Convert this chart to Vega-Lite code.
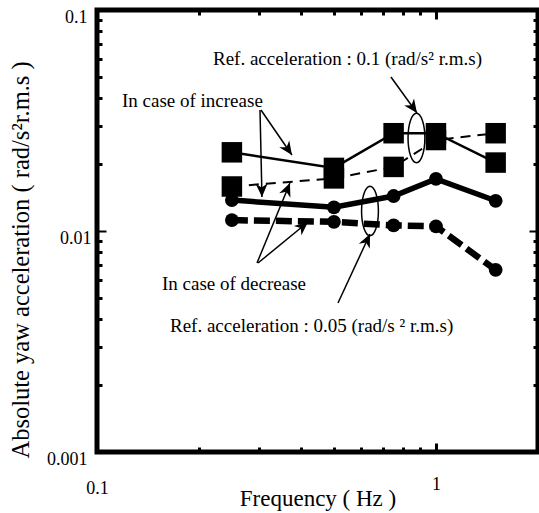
{
  "$schema": "https://vega.github.io/schema/vega-lite/v6.json",
  "width": 441,
  "height": 442,
  "autosize": {"type": "none"},
  "padding": {"left": 97, "top": 10, "right": 1, "bottom": 61},
  "background": "white",
  "config": {"view": {"stroke": "black", "strokeWidth": 5}, "font": "Liberation Serif"},
  "datasets": {
    "series": [
      {"freq": 0.25, "accel": 0.0227, "ref": "0.1", "trend": "increase"},
      {"freq": 0.5, "accel": 0.0193, "ref": "0.1", "trend": "increase"},
      {"freq": 0.75, "accel": 0.0277, "ref": "0.1", "trend": "increase"},
      {"freq": 1.0, "accel": 0.0277, "ref": "0.1", "trend": "increase"},
      {"freq": 1.5, "accel": 0.0204, "ref": "0.1", "trend": "increase"},
      {"freq": 0.25, "accel": 0.0159, "ref": "0.1", "trend": "decrease"},
      {"freq": 0.5, "accel": 0.0173, "ref": "0.1", "trend": "decrease"},
      {"freq": 0.75, "accel": 0.0195, "ref": "0.1", "trend": "decrease"},
      {"freq": 1.0, "accel": 0.0258, "ref": "0.1", "trend": "decrease"},
      {"freq": 1.5, "accel": 0.0277, "ref": "0.1", "trend": "decrease"},
      {"freq": 0.25, "accel": 0.0138, "ref": "0.05", "trend": "increase"},
      {"freq": 0.5, "accel": 0.0128, "ref": "0.05", "trend": "increase"},
      {"freq": 0.75, "accel": 0.0144, "ref": "0.05", "trend": "increase"},
      {"freq": 1.0, "accel": 0.0172, "ref": "0.05", "trend": "increase"},
      {"freq": 1.5, "accel": 0.0137, "ref": "0.05", "trend": "increase"},
      {"freq": 0.25, "accel": 0.0112, "ref": "0.05", "trend": "decrease"},
      {"freq": 0.5, "accel": 0.0110, "ref": "0.05", "trend": "decrease"},
      {"freq": 0.75, "accel": 0.0106, "ref": "0.05", "trend": "decrease"},
      {"freq": 1.0, "accel": 0.0105, "ref": "0.05", "trend": "decrease"},
      {"freq": 1.5, "accel": 0.00667, "ref": "0.05", "trend": "decrease"}
    ],
    "notes": [
      {"x": 0.2199, "y": 0.0600, "text": "Ref. acceleration : 0.1 (rad/s² r.m.s)"},
      {"x": 0.1185, "y": 0.03876, "text": "In case of increase"},
      {"x": 0.1555, "y": 0.005756, "text": "In case of decrease"},
      {"x": 0.1642, "y": 0.003716, "text": "Ref. acceleration : 0.05 (rad/s ² r.m.s)"}
    ],
    "arrows": [
      {"x": 0.3026, "y": 0.03528, "x2": 0.3067, "y2": 0.01425, "heading": 178.7},
      {"x": 0.3046, "y": 0.03528, "x2": 0.3759, "y2": 0.02207, "heading": 145.4},
      {"x": 0.2965, "y": 0.007164, "x2": 0.3709, "y2": 0.01649, "heading": 22.4},
      {"x": 0.2985, "y": 0.007164, "x2": 0.4193, "y2": 0.01098, "heading": 50.6},
      {"x": 0.7365, "y": 0.04974, "x2": 0.8790, "y2": 0.03420, "heading": 144.2},
      {"x": 0.5140, "y": 0.004722, "x2": 0.6388, "y2": 0.009692, "heading": 24.9}
    ],
    "rings": [
      {"x": 0.8759, "y": 0.02635},
      {"x": 0.6388, "y": 0.01231}
    ]
  },
  "resolve": {"axis": {"x": "independent", "y": "independent"}},
  "layer": [
    {
      "data": {"name": "series"},
      "transform": [{"filter": "datum.ref == '0.1' && datum.trend == 'increase'"}],
      "mark": {"type": "line", "color": "black", "strokeWidth": 2.5},
      "encoding": {
        "x": {
          "field": "freq", "type": "quantitative",
          "scale": {"type": "log", "domain": [0.1, 2], "nice": false},
          "axis": {
            "orient": "bottom",
            "values": [0.1, 0.2, 0.3, 0.4, 0.5, 0.6, 0.7, 0.8, 0.9, 1],
            "domain": false, "grid": false,
            "tickColor": "black", "tickWidth": 3,
            "tickSize": {"condition": {"test": "datum.value == 1", "value": -9}, "value": -5},
            "labelExpr": "datum.value == 1 ? '1' : (datum.value == 0.1 ? '0.1' : '')",
            "labelFont": "Liberation Serif", "labelFontSize": 18, "labelColor": "black",
            "labelPadding": 32, "labelFlush": false, "labelOverlap": false, "labelBound": false,
            "title": "Frequency  ( Hz )",
            "titleFont": "Liberation Serif", "titleFontSize": 23, "titleFontWeight": "normal", "titleColor": "black",
            "titleY": 46, "titleBaseline": "middle"
          }
        },
        "y": {
          "field": "accel", "type": "quantitative",
          "scale": {"type": "log", "domain": [0.001, 0.1], "nice": false},
          "axis": {
            "orient": "left",
            "values": [0.001, 0.002, 0.003, 0.004, 0.005, 0.006, 0.007, 0.008, 0.009, 0.01, 0.02, 0.03, 0.04, 0.05, 0.06, 0.07, 0.08, 0.09, 0.1],
            "domain": false, "grid": false,
            "tickColor": "black",
            "tickWidth": {"condition": {"test": "datum.value == 0.01", "value": 2}, "value": 3},
            "tickSize": {"condition": {"test": "datum.value == 0.01", "value": -9}, "value": -5},
            "labelExpr": "datum.value == 0.1 ? '0.1' : (datum.value == 0.01 ? '0.01' : (datum.value == 0.001 ? '0.001' : ''))",
            "labelFont": "Liberation Serif", "labelFontSize": 18, "labelColor": "black",
            "labelPadding": 15, "labelOffset": 7, "labelFlush": false, "labelOverlap": false, "labelBound": false,
            "title": "Absolute yaw acceleration ( rad/s²r.m.s )",
            "titleFont": "Liberation Serif", "titleFontSize": 24.5, "titleFontWeight": "normal", "titleColor": "black",
            "titleAnchor": "start", "titleAlign": "left",
            "titleX": -76, "titleY": 448, "titleBaseline": "middle"
          }
        }
      }
    },
    {
      "data": {"name": "series"},
      "transform": [{"filter": "datum.ref == '0.1' && datum.trend == 'decrease'"}],
      "mark": {"type": "line", "color": "black", "strokeWidth": 2, "strokeDash": [10, 7]},
      "encoding": {
        "x": {
          "field": "freq", "type": "quantitative",
          "axis": {
            "orient": "top",
            "values": [0.2, 0.3, 0.4, 0.5, 0.6, 0.7, 0.8, 0.9, 1],
            "domain": false, "grid": false, "labels": false, "title": null,
            "tickColor": "black", "tickWidth": 3,
            "tickSize": {"condition": {"test": "datum.value == 1", "value": -9}, "value": -5}
          }
        },
        "y": {
          "field": "accel", "type": "quantitative",
          "axis": {
            "orient": "right",
            "values": [0.002, 0.003, 0.004, 0.005, 0.006, 0.007, 0.008, 0.009, 0.01, 0.02, 0.03, 0.04, 0.05, 0.06, 0.07, 0.08, 0.09],
            "domain": false, "grid": false, "labels": false, "title": null,
            "tickColor": "black",
            "tickWidth": {"condition": {"test": "datum.value == 0.01", "value": 2}, "value": 3},
            "tickSize": {"condition": {"test": "datum.value == 0.01", "value": -9}, "value": -5}
          }
        }
      }
    },
    {
      "data": {"name": "series"},
      "transform": [{"filter": "datum.ref == '0.05' && datum.trend == 'increase'"}],
      "mark": {"type": "line", "color": "black", "strokeWidth": 5.5},
      "encoding": {
        "x": {"field": "freq", "type": "quantitative", "axis": null},
        "y": {"field": "accel", "type": "quantitative", "axis": null}
      }
    },
    {
      "data": {"name": "series"},
      "transform": [{"filter": "datum.ref == '0.05' && datum.trend == 'decrease'"}],
      "mark": {"type": "line", "color": "black", "strokeWidth": 6.5, "strokeDash": [16, 6]},
      "encoding": {
        "x": {"field": "freq", "type": "quantitative", "axis": null},
        "y": {"field": "accel", "type": "quantitative", "axis": null}
      }
    },
    {
      "data": {"name": "series"},
      "transform": [{"filter": "datum.ref == '0.1'"}],
      "mark": {"type": "point", "shape": "square", "filled": true, "color": "black", "opacity": 1, "size": 420},
      "encoding": {
        "x": {"field": "freq", "type": "quantitative", "axis": null},
        "y": {"field": "accel", "type": "quantitative", "axis": null}
      }
    },
    {
      "data": {"name": "series"},
      "transform": [{"filter": "datum.ref == '0.05'"}],
      "mark": {"type": "point", "shape": "circle", "filled": true, "color": "black", "opacity": 1, "size": 190},
      "encoding": {
        "x": {"field": "freq", "type": "quantitative", "axis": null},
        "y": {"field": "accel", "type": "quantitative", "axis": null}
      }
    },
    {
      "data": {"name": "rings"},
      "mark": {"type": "point", "shape": "M -0.34 0 A 0.34 1 0 1 0 0.34 0 A 0.34 1 0 1 0 -0.34 0 Z", "filled": false, "stroke": "black", "strokeWidth": 1.5, "opacity": 1, "size": 2450},
      "encoding": {
        "x": {"field": "x", "type": "quantitative", "axis": null},
        "y": {"field": "y", "type": "quantitative", "axis": null}
      }
    },
    {
      "data": {"name": "arrows"},
      "mark": {"type": "rule", "color": "black", "strokeWidth": 1.5},
      "encoding": {
        "x": {"field": "x", "type": "quantitative", "axis": null},
        "y": {"field": "y", "type": "quantitative", "axis": null},
        "x2": {"field": "x2"},
        "y2": {"field": "y2"}
      }
    },
    {
      "data": {"name": "arrows"},
      "mark": {"type": "point", "shape": "M 0 0 L 0.45 1 L 0 0.7 L -0.45 1 Z", "filled": true, "color": "black", "opacity": 1, "size": 729},
      "encoding": {
        "x": {"field": "x2", "type": "quantitative", "axis": null},
        "y": {"field": "y2", "type": "quantitative", "axis": null},
        "angle": {"field": "heading", "type": "quantitative", "scale": null}
      }
    },
    {
      "data": {"name": "notes"},
      "mark": {"type": "text", "align": "left", "baseline": "middle", "font": "Liberation Serif", "fontSize": 19, "color": "black"},
      "encoding": {
        "x": {"field": "x", "type": "quantitative", "axis": null},
        "y": {"field": "y", "type": "quantitative", "axis": null},
        "text": {"field": "text"}
      }
    }
  ]
}
